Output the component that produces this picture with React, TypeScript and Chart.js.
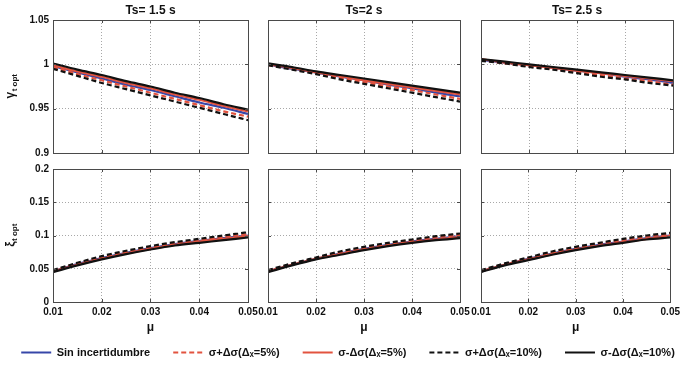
import React, { useEffect, useRef } from 'react';
import { Chart, registerables } from 'chart.js';

Chart.register(...registerables);

// ---------- data ----------
const MU = [0.01, 0.015, 0.02, 0.025, 0.03, 0.035, 0.04, 0.045, 0.05];

const X_TICKS = [0.01, 0.02, 0.03, 0.04, 0.05];
const X_TICK_LABELS = ['0.01', '0.02', '0.03', '0.04', '0.05'];
const GAMMA_TICKS = [0.9, 0.95, 1, 1.05];
const GAMMA_TICK_LABELS = ['0.9', '0.95', '1', '1.05'];
const XI_TICKS = [0, 0.05, 0.1, 0.15, 0.2];
const XI_TICK_LABELS = ['0', '0.05', '0.1', '0.15', '0.2'];

const TITLES = ['Ts= 1.5 s', 'Ts=2 s', 'Ts= 2.5 s'];
const X_LABEL = 'μ';
const GAMMA_LABEL = ['γ', 't opt'];
const XI_LABEL = ['ξ', 't opt'];

const SERIES_LABELS = [
  'Sin incertidumbre',
  'σ+Δσ(Δₓ=5%)',
  'σ-Δσ(Δₓ=5%)',
  'σ+Δσ(Δₓ=10%)',
  'σ-Δσ(Δₓ=10%)',
];

// series order: nominal, +5%, -5%, +10%, -10%
const GAMMA_TS15 = [
  [0.998, 0.991, 0.984, 0.977, 0.971, 0.964, 0.957, 0.951, 0.944],
  [0.997, 0.989, 0.982, 0.975, 0.968, 0.961, 0.954, 0.947, 0.941],
  [0.999, 0.992, 0.986, 0.979, 0.973, 0.966, 0.96, 0.953, 0.947],
  [0.995, 0.987, 0.979, 0.972, 0.965, 0.958, 0.951, 0.944, 0.937],
  [1.001, 0.994, 0.988, 0.981, 0.975, 0.968, 0.962, 0.955, 0.949],
];
const GAMMA_TS2 = [
  [1.0, 0.995, 0.991, 0.986, 0.982, 0.977, 0.973, 0.968, 0.964],
  [0.999, 0.995, 0.99, 0.985, 0.98, 0.975, 0.971, 0.966, 0.961],
  [1.0, 0.996, 0.991, 0.987, 0.982, 0.978, 0.974, 0.97, 0.966],
  [0.999, 0.994, 0.989, 0.983, 0.978, 0.973, 0.968, 0.963, 0.958],
  [1.001, 0.997, 0.992, 0.988, 0.984, 0.98, 0.976, 0.972, 0.968],
];
const GAMMA_TS25 = [
  [1.005, 1.002, 0.999, 0.996, 0.993, 0.99, 0.986, 0.983, 0.979],
  [1.005, 1.001, 0.998, 0.995, 0.991, 0.988, 0.984, 0.981, 0.977],
  [1.006, 1.002, 0.999, 0.996, 0.993, 0.99, 0.987, 0.984, 0.981],
  [1.004, 1.001, 0.997, 0.994, 0.99, 0.986, 0.983, 0.979, 0.976],
  [1.006, 1.003, 1.0, 0.997, 0.994, 0.991, 0.988, 0.985, 0.982],
];
const XI_TS15 = [
  [0.046, 0.057, 0.066, 0.074, 0.081, 0.087, 0.092, 0.096, 0.1],
  [0.047, 0.058, 0.067, 0.075, 0.082, 0.088, 0.093, 0.098, 0.102],
  [0.046, 0.056, 0.065, 0.073, 0.08, 0.086, 0.091, 0.095, 0.099],
  [0.048, 0.059, 0.069, 0.077, 0.084, 0.09, 0.095, 0.1, 0.105],
  [0.045, 0.055, 0.064, 0.072, 0.079, 0.085, 0.089, 0.093, 0.097],
];
const XI_TS2 = [
  [0.046, 0.056, 0.065, 0.073, 0.08, 0.086, 0.091, 0.095, 0.099],
  [0.047, 0.057, 0.066, 0.074, 0.081, 0.087, 0.092, 0.097, 0.101],
  [0.046, 0.056, 0.065, 0.072, 0.079, 0.085, 0.09, 0.094, 0.098],
  [0.048, 0.058, 0.067, 0.076, 0.083, 0.089, 0.094, 0.099, 0.103],
  [0.045, 0.055, 0.064, 0.071, 0.078, 0.084, 0.089, 0.093, 0.096],
];
const XI_TS25 = [
  [0.046, 0.056, 0.065, 0.073, 0.08, 0.086, 0.091, 0.096, 0.1],
  [0.047, 0.057, 0.066, 0.074, 0.081, 0.088, 0.093, 0.098, 0.102],
  [0.046, 0.056, 0.064, 0.072, 0.079, 0.085, 0.09, 0.095, 0.099],
  [0.048, 0.058, 0.067, 0.076, 0.083, 0.089, 0.095, 0.1, 0.104],
  [0.045, 0.055, 0.063, 0.071, 0.078, 0.084, 0.089, 0.094, 0.097],
];

// ---------- styles / layout ----------
const W = 684;
const H = 367;
const FONT = '"Liberation Sans", Arial, sans-serif';
const SERIES_COLORS = ['#3646a8', '#e2533f', '#e2533f', '#111111', '#111111'];
const SERIES_DASH = [[], [5, 3], [], [5, 3], []];
const COL_LEFT = [53, 268, 481];
const COL_RIGHT = [248, 460, 673];
const ROW_TOP = [20, 169];
const ROW_BOTTOM = [153, 302];
const Y_AXIS_W = 40;
const X_AXIS_H = 20;
const LEGEND_PAD = 23;
const LEGEND_TOP = 324;
const LEGEND_H = 140;
const LEGEND_W = 760;
const LEGEND_SHIFT = 6;

const decorPlugin = {
  id: 'panelDecor',
  afterDraw(chart: any, _args: any, opts: any) {
    const { ctx, chartArea: a, scales } = chart;
    ctx.save();
    ctx.setLineDash([]);
    ctx.strokeStyle = '#4a4a4a';
    ctx.lineWidth = 1;
    ctx.beginPath();
    for (const t of scales.x.ticks) {
      const px = Math.round(scales.x.getPixelForValue(t.value)) + 0.5;
      ctx.moveTo(px, a.bottom);
      ctx.lineTo(px, a.bottom - 3);
      ctx.moveTo(px, a.top);
      ctx.lineTo(px, a.top + 3);
    }
    for (const t of scales.y.ticks) {
      const py = Math.round(scales.y.getPixelForValue(t.value)) + 0.5;
      ctx.moveTo(a.left, py);
      ctx.lineTo(a.left + 3, py);
      ctx.moveTo(a.right, py);
      ctx.lineTo(a.right - 3, py);
    }
    ctx.stroke();
    ctx.strokeRect(Math.round(a.left) + 0.5, Math.round(a.top) + 0.5, Math.round(a.width), Math.round(a.height));

    ctx.fillStyle = '#111';
    const cx = (a.left + a.right) / 2;
    if (opts.title) {
      ctx.font = `bold 12px ${FONT}`;
      ctx.textAlign = 'center';
      ctx.textBaseline = 'middle';
      ctx.fillText(opts.title, cx, 11);
    }
    if (opts.xLabel) {
      ctx.font = `bold 12px ${FONT}`;
      ctx.textAlign = 'center';
      ctx.textBaseline = 'alphabetic';
      ctx.fillText(opts.xLabel, cx, 331);
    }
    if (opts.yLabel) {
      const [main, sub] = opts.yLabel;
      ctx.translate(11, (a.top + a.bottom) / 2);
      ctx.rotate(-Math.PI / 2);
      ctx.font = `bold 12px ${FONT}`;
      const w1 = ctx.measureText(main).width;
      ctx.font = `bold 8px ${FONT}`;
      const w2 = ctx.measureText(sub).width;
      const start = -(w1 + w2) / 2;
      ctx.textAlign = 'left';
      ctx.textBaseline = 'middle';
      ctx.font = `bold 12px ${FONT}`;
      ctx.fillText(main, start, 0);
      ctx.font = `bold 8px ${FONT}`;
      ctx.fillText(sub, start + w1 + 0.5, 4);
    }
    ctx.restore();
  },
};

type Panel = {
  row: number;
  col: number;
  values: number[][];
};

const PANELS: Panel[] = [
  { row: 0, col: 0, values: GAMMA_TS15 },
  { row: 0, col: 1, values: GAMMA_TS2 },
  { row: 0, col: 2, values: GAMMA_TS25 },
  { row: 1, col: 0, values: XI_TS15 },
  { row: 1, col: 1, values: XI_TS2 },
  { row: 1, col: 2, values: XI_TS25 },
];

function panelConfig(p: Panel): any {
  const top = p.row === 0;
  const yTicks = top ? GAMMA_TICKS : XI_TICKS;
  const yLabels = top ? GAMMA_TICK_LABELS : XI_TICK_LABELS;
  const tickFont = { family: FONT, size: 10, weight: 'bold' };
  return {
    type: 'line',
    data: {
      datasets: p.values.map((vals, i) => ({
        label: SERIES_LABELS[i],
        data: MU.map((m, j) => ({ x: m, y: vals[j] })),
        borderColor: SERIES_COLORS[i],
        borderDash: SERIES_DASH[i],
        borderWidth: 2.2,
        pointRadius: 0,
        fill: false,
        tension: 0.4,
        cubicInterpolationMode: 'monotone',
        order: 4 - i,
      })),
    },
    options: {
      animation: false,
      responsive: false,
      events: [],
      layout: {
        padding: {
          left: COL_LEFT[p.col] - Y_AXIS_W,
          right: W - COL_RIGHT[p.col],
          top: ROW_TOP[p.row],
          bottom: H - ROW_BOTTOM[p.row] - X_AXIS_H,
        },
      },
      plugins: {
        legend: { display: false },
        tooltip: { enabled: false },
        panelDecor: {
          title: top ? TITLES[p.col] : null,
          xLabel: top ? null : X_LABEL,
          yLabel: p.col === 0 ? (top ? GAMMA_LABEL : XI_LABEL) : null,
        },
      },
      scales: {
        x: {
          type: 'linear',
          min: X_TICKS[0],
          max: X_TICKS[X_TICKS.length - 1],
          afterBuildTicks: (s: any) => {
            s.ticks = X_TICKS.map((v) => ({ value: v }));
          },
          afterFit: (s: any) => {
            s.height = X_AXIS_H;
          },
          grid: { color: '#a8a8a8', drawTicks: false, lineWidth: 1 },
          border: { display: false, dash: [1, 2] },
          ticks: {
            display: !top,
            font: tickFont,
            color: '#111',
            padding: 4,
            maxRotation: 0,
            autoSkip: false,
            callback: (_v: any, i: number) => X_TICK_LABELS[i],
          },
        },
        y: {
          type: 'linear',
          min: yTicks[0],
          max: yTicks[yTicks.length - 1],
          afterBuildTicks: (s: any) => {
            s.ticks = yTicks.map((v) => ({ value: v }));
          },
          afterFit: (s: any) => {
            s.width = Y_AXIS_W;
          },
          grid: { color: '#a8a8a8', drawTicks: false, lineWidth: 1 },
          border: { display: false, dash: [1, 2] },
          ticks: {
            display: p.col === 0,
            font: tickFont,
            color: '#111',
            padding: 4,
            autoSkip: false,
            callback: (_v: any, i: number) => yLabels[i],
          },
        },
      },
    },
    plugins: [decorPlugin],
  };
}

function legendConfig(): any {
  return {
    type: 'line',
    data: {
      datasets: SERIES_LABELS.map((label, i) => ({
        label,
        data: [],
        borderColor: SERIES_COLORS[i],
        backgroundColor: SERIES_COLORS[i],
        borderDash: SERIES_DASH[i],
        borderWidth: 2,
      })),
    },
    options: {
      animation: false,
      responsive: false,
      events: [],
      layout: { padding: 0 },
      scales: { x: { display: false }, y: { display: false } },
      plugins: {
        tooltip: { enabled: false },
        legend: {
          display: true,
          position: 'top',
          labels: {
            usePointStyle: true,
            pointStyle: 'line',
            pointStyleWidth: 30,
            padding: LEGEND_PAD,
            color: '#111',
            font: { family: FONT, size: 11, weight: 'bold' },
            generateLabels: (chart: any) =>
              Chart.defaults.plugins.legend.labels.generateLabels(chart).map((item: any) => ({
                ...item,
                lineDash: SERIES_DASH[item.datasetIndex],
                strokeStyle: SERIES_COLORS[item.datasetIndex],
                lineWidth: 2,
              })),
          },
        },
      },
    },
  };
}

export default function App() {
  const refs = useRef<(HTMLCanvasElement | null)[]>([]);
  const legendRef = useRef<HTMLCanvasElement | null>(null);

  useEffect(() => {
    const charts: Chart[] = [];
    PANELS.forEach((p, i) => {
      const c = refs.current[i];
      if (c) charts.push(new Chart(c, panelConfig(p)));
    });
    if (legendRef.current) charts.push(new Chart(legendRef.current, legendConfig()));
    return () => charts.forEach((c) => c.destroy());
  }, []);

  return (
    <div style={{ position: 'fixed', left: 0, top: 0, width: W, height: H, background: '#fff', overflow: 'hidden' }}>
      {PANELS.map((_p, i) => (
        <canvas
          key={i}
          ref={(el) => {
            refs.current[i] = el;
          }}
          width={W}
          height={H}
          style={{ position: 'absolute', left: 0, top: 0, width: W, height: H }}
        />
      ))}
      <canvas
        ref={legendRef}
        width={LEGEND_W}
        height={LEGEND_H}
        style={{
          position: 'absolute',
          left: (W - LEGEND_W) / 2 + LEGEND_SHIFT,
          top: LEGEND_TOP,
          width: LEGEND_W,
          height: LEGEND_H,
        }}
      />
    </div>
  );
}
